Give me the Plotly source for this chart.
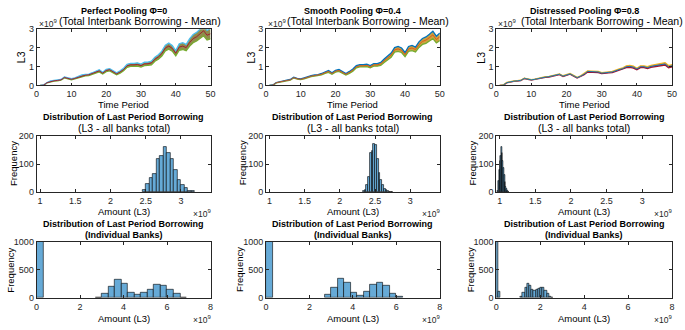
import plotly.graph_objects as go

# ---------------- data (values in units of 1e9) ----------------
periods = list(range(1, 51))

perfect_mid = [0.00, 0.02, 0.15, 0.22, 0.25, 0.27, 0.30, 0.43, 0.36, 0.33,
               0.38, 0.45, 0.52, 0.55, 0.57, 0.63, 0.70, 0.78, 0.66, 0.80,
               0.84, 0.72, 0.62, 0.72, 0.85, 1.05, 1.10, 1.10, 1.12, 1.06,
               1.15, 1.16, 1.20, 1.40, 1.52, 1.70, 2.00, 2.10, 1.98, 1.72,
               2.05, 2.10, 2.02, 2.30, 2.50, 2.60, 2.75, 2.92, 2.68, 2.76]
perfect_hw = [0.00, 0.01, 0.01, 0.02, 0.02, 0.02, 0.02, 0.03, 0.03, 0.03,
              0.03, 0.04, 0.04, 0.04, 0.04, 0.05, 0.05, 0.06, 0.05, 0.06,
              0.06, 0.06, 0.05, 0.06, 0.07, 0.08, 0.08, 0.08, 0.09, 0.08,
              0.09, 0.09, 0.10, 0.11, 0.12, 0.13, 0.15, 0.16, 0.15, 0.14,
              0.17, 0.18, 0.17, 0.20, 0.22, 0.23, 0.25, 0.27, 0.26, 0.28]

smooth_mid = [0.00, 0.02, 0.15, 0.20, 0.25, 0.27, 0.30, 0.42, 0.36, 0.33,
              0.38, 0.45, 0.50, 0.53, 0.55, 0.60, 0.68, 0.75, 0.64, 0.76,
              0.80, 0.70, 0.60, 0.70, 0.82, 1.00, 1.05, 1.05, 1.07, 1.00,
              1.10, 1.10, 1.15, 1.32, 1.45, 1.62, 1.90, 1.95, 1.88, 1.65,
              1.95, 2.00, 1.92, 2.18, 2.35, 2.42, 2.55, 2.70, 2.45, 2.60]
smooth_hw = [0.00, 0.01, 0.01, 0.01, 0.02, 0.02, 0.02, 0.02, 0.02, 0.02,
             0.03, 0.03, 0.03, 0.03, 0.03, 0.04, 0.04, 0.05, 0.04, 0.05,
             0.05, 0.05, 0.04, 0.05, 0.06, 0.06, 0.06, 0.06, 0.07, 0.06,
             0.07, 0.07, 0.08, 0.09, 0.10, 0.11, 0.12, 0.13, 0.12, 0.11,
             0.13, 0.14, 0.13, 0.15, 0.16, 0.17, 0.18, 0.20, 0.18, 0.20]

distressed_mid = [0.00, 0.02, 0.15, 0.20, 0.23, 0.25, 0.27, 0.38, 0.32, 0.30,
                  0.33, 0.38, 0.43, 0.45, 0.47, 0.50, 0.55, 0.60, 0.50, 0.58,
                  0.62, 0.52, 0.42, 0.50, 0.60, 0.75, 0.74, 0.72, 0.72, 0.66,
                  0.70, 0.70, 0.72, 0.80, 0.85, 0.90, 1.00, 1.02, 0.98, 0.88,
                  1.00, 1.00, 0.95, 1.02, 1.05, 1.08, 1.10, 1.15, 1.00, 1.05]
distressed_hw = [0.00, 0.01, 0.01, 0.01, 0.01, 0.01, 0.01, 0.01, 0.01, 0.01,
                 0.01, 0.01, 0.02, 0.02, 0.02, 0.02, 0.02, 0.02, 0.02, 0.02,
                 0.02, 0.02, 0.02, 0.02, 0.03, 0.03, 0.03, 0.03, 0.03, 0.03,
                 0.03, 0.03, 0.03, 0.04, 0.04, 0.04, 0.05, 0.05, 0.05, 0.04,
                 0.05, 0.05, 0.05, 0.05, 0.05, 0.06, 0.06, 0.06, 0.06, 0.06]

# total-borrowing histograms (bin start, bin width, counts)
tot_perfect_start, tot_perfect_width = 2.45, 0.05
tot_perfect_counts = [8, 28, 50, 65, 118, 130, 160, 140, 120, 80, 45, 25, 15, 6, 3]
tot_smooth_start, tot_smooth_width = 2.325, 0.025
tot_smooth_counts = [3, 8, 25, 55, 140, 145, 170, 168, 120, 70, 45, 25, 12, 8, 4, 2, 1]
tot_distressed_start, tot_distressed_width = 0.97, 0.01
tot_distressed_counts = [5, 40, 80, 110, 130, 160, 140, 110, 85, 60, 35, 20, 10, 5, 3, 1]

# individual-bank histograms (bins start at 0)
ind_perfect_width = 0.3
ind_perfect_counts = [1000, 0, 0, 0, 0, 0, 0, 0, 0,
                      10, 75, 195, 330, 245, 90, 55, 90, 155, 230, 215, 140, 75, 8]
ind_smooth_width = 0.3
ind_smooth_counts = [1000, 0, 0, 0, 0, 0, 0, 0, 0,
                     60, 190, 350, 270, 100, 40, 110, 240, 270, 215, 80, 20]
ind_distressed_width = 0.1
ind_distressed_counts = [1000, 110, 0, 0, 0, 0, 0, 0, 0, 0, 0,
                         20, 90, 190, 245, 210, 150, 120, 140, 170, 180, 175, 130, 70, 25, 8]

scenario_titles = ["Perfect Pooling \u03a6=0", "Smooth Pooling \u03a6=0.4", "Distressed Pooling \u03a6=0.8"]
top_ticks = [0, 1, 2, 3]
time_ticks = [0, 10, 20, 30, 40, 50]
total_ticks = [1, 1.5, 2, 2.5, 3]
total_tick_text = ["1", "1.5", "2", "2.5", "3"]
ind_ticks = [0, 2, 4, 6, 8]

# ---------------- layout helpers ----------------
W, H = 685, 330
col_px = [(34, 210), (266, 442), (499, 677)]
row_px = [(25, 83), (135, 193), (244, 302)]
sub_left_px = [55, 285, 522]
FONT = "Liberation Sans, Arial, Helvetica, sans-serif"
INK = "#262626"
BAR = "#66AAD7"


def px_x(x):
    return x / W


def px_y(y):
    return 1 - y / H


fig = go.Figure()
annotations = []


def ann(text, x, y, size, bold=False, angle=0, xanchor="center", color="#000000"):
    if bold:
        text = "<b>" + text + "</b>"
    annotations.append(dict(text=text, x=px_x(x), y=px_y(y), xref="paper", yref="paper",
                            showarrow=False, xanchor=xanchor, yanchor="middle",
                            textangle=angle, font=dict(size=size, color=color, family=FONT)))


def axis_name(i):
    return ("", "") if i == 1 else (str(i), str(i))


layout = {}
for r in range(3):
    for c in range(3):
        i = r * 3 + c + 1
        xs, ys = axis_name(i)
        x0, x1 = col_px[c]
        y0, y1 = row_px[r]
        common = dict(showline=True, linecolor=INK, linewidth=0.8, mirror="ticks",
                      ticks="inside", ticklen=3, tickcolor=INK, tickwidth=0.8,
                      showgrid=False, zeroline=False,
                      tickfont=dict(size=9, color=INK, family=FONT))
        layout["xaxis" + xs] = dict(domain=[px_x(x0), px_x(x1)], anchor="y" + ys, **common)
        layout["yaxis" + ys] = dict(domain=[px_y(y1), px_y(y0)], anchor="x" + xs, **common)

# ---------------- row 1: time paths ----------------
paths = [
    (perfect_mid, perfect_hw, "#8F8C4C", "#4DBEEE", "#A2142F", "#77AC30"),
    (smooth_mid, smooth_hw, "#CDA23E", "#0072BD", "#D95319", "#77AC30"),
    (distressed_mid, distressed_hw, "#C0707E", "#EDB120", "#0072BD", "#A2142F"),
]
for c, (mid, hw, fillc, upc, midc, lowc) in enumerate(paths):
    i = c + 1
    xs, ys = axis_name(i)
    upper = [m + h for m, h in zip(mid, hw)]
    lower = [m - h for m, h in zip(mid, hw)]
    xa, ya = "x" + xs, "y" + ys
    fig.add_trace(go.Scatter(x=periods, y=lower, mode="lines", line=dict(color=lowc, width=1.3),
                             xaxis=xa, yaxis=ya, showlegend=False))
    fig.add_trace(go.Scatter(x=periods, y=upper, mode="lines", line=dict(color=upc, width=1.3),
                             fill="tonexty", fillcolor=fillc, xaxis=xa, yaxis=ya, showlegend=False))
    fig.add_trace(go.Scatter(x=periods, y=mid, mode="lines", line=dict(color=midc, width=0.9),
                             xaxis=xa, yaxis=ya, showlegend=False))
    layout["xaxis" + xs].update(range=[0, 50], tickvals=time_ticks)
    layout["yaxis" + ys].update(range=[0, 3], tickvals=top_ticks)
    cx = (col_px[c][0] + col_px[c][1]) / 2
    ann(scenario_titles[c], cx, 6, 9, bold=True)
    ann("(Total Interbank Borrowing - Mean)", sub_left_px[c], 16, 10.5, xanchor="left")
    ann("\u00d710<sup>9</sup>", col_px[c][0], 19, 8.5, xanchor="left", color=INK)
    ann("L3", col_px[c][0] - 15, 54, 10.5, angle=-90)
    ann("Time Period", cx, 103, 9.5)

# ---------------- row 2: totals ----------------
totals = [
    (tot_perfect_start, tot_perfect_width, tot_perfect_counts),
    (tot_smooth_start, tot_smooth_width, tot_smooth_counts),
    (tot_distressed_start, tot_distressed_width, tot_distressed_counts),
]
for c, (start, w, counts) in enumerate(totals):
    i = 3 + c + 1
    xs, ys = axis_name(i)
    centers = [start + (k + 0.5) * w for k in range(len(counts))]
    fig.add_trace(go.Bar(x=centers, y=counts, width=[w] * len(counts),
                         marker=dict(color=BAR, line=dict(color="#000000", width=0.6)),
                         xaxis="x" + xs, yaxis="y" + ys, showlegend=False))
    layout["xaxis" + xs].update(range=[0.95, 3.42], tickvals=total_ticks, ticktext=total_tick_text)
    layout["yaxis" + ys].update(range=[0, 200], tickvals=[0, 100, 200])
    cx = (col_px[c][0] + col_px[c][1]) / 2
    ann("Distribution of Last Period Borrowing", cx, 116, 9, bold=True)
    ann("(L3 - all banks total)", cx, 127, 10.5)
    ann("Frequency", col_px[c][0] - 24, 163, 9.5, angle=-90)
    ann("Amount (L3)", cx, 213, 9.5)
    ann("\u00d710<sup>9</sup>", col_px[c][1] - 20, 215, 8.5, xanchor="left", color=INK)

# ---------------- row 3: individual banks ----------------
indiv = [
    (ind_perfect_width, ind_perfect_counts),
    (ind_smooth_width, ind_smooth_counts),
    (ind_distressed_width, ind_distressed_counts),
]
for c, (w, counts) in enumerate(indiv):
    i = 6 + c + 1
    xs, ys = axis_name(i)
    keep = [k for k in range(len(counts)) if counts[k] > 0]
    centers = [(k + 0.5) * w for k in keep]
    fig.add_trace(go.Bar(x=centers, y=[counts[k] for k in keep], width=[w] * len(keep),
                         marker=dict(color=BAR, line=dict(color="#000000", width=0.6)),
                         xaxis="x" + xs, yaxis="y" + ys, showlegend=False))
    layout["xaxis" + xs].update(range=[0, 8], tickvals=ind_ticks)
    layout["yaxis" + ys].update(range=[0, 1000], tickvals=[0, 500, 1000])
    cx = (col_px[c][0] + col_px[c][1]) / 2
    ann("Distribution of Last Period Borrowing", cx, 226, 9, bold=True)
    ann("(Individual Banks)", cx, 237, 9, bold=True)
    ann("Frequency", col_px[c][0] - 26, 273, 9.5, angle=-90)
    ann("Amount (L3)", cx, 323, 9.5)
    ann("\u00d710<sup>9</sup>", col_px[c][1] - 20, 324, 8.5, xanchor="left", color=INK)

fig.update_layout(**layout)
fig.update_layout(width=W, height=H, margin=dict(l=0, r=0, t=0, b=0),
                  paper_bgcolor="white", plot_bgcolor="white", bargap=0,
                  annotations=annotations, font=dict(family=FONT, color=INK))

fig.write_html("out.html", config={"displayModeBar": False},
               post_script="document.body.style.margin='0';document.body.style.padding='0';")
